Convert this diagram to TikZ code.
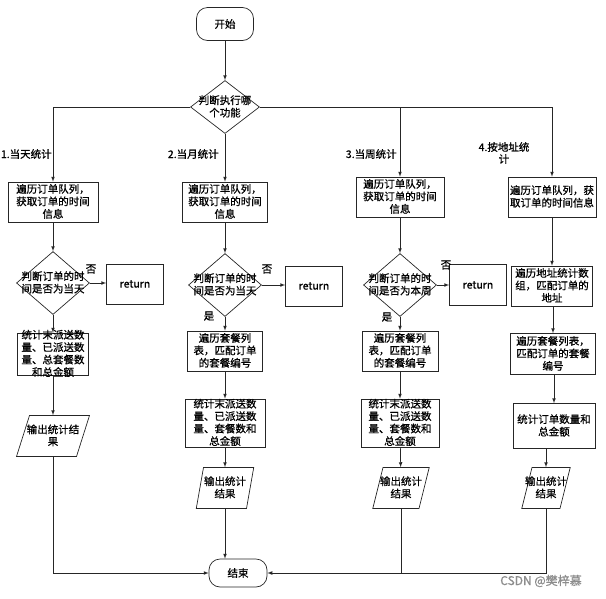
\documentclass[tikz,border=0pt]{standalone}
\usepackage{fontspec}
\setmainfont{Noto Sans CJK SC}[FakeBold=0.8]
\usetikzlibrary{shapes.geometric}
\newcommand{\boxtext}[1]{\smash{\raisebox{-3.5pt}{\begin{tabular}{@{}c@{}}#1\end{tabular}}}}
\begin{document}
\begin{tikzpicture}[x=1pt,y=-1pt,line width=0.7pt,draw=black!85,
        font=\fontsize{10.5}{12}\selectfont,
        proc/.style={draw,rectangle,inner sep=0pt},
        term/.style={draw,rectangle,rounded corners=11pt,inner sep=0pt},
        judge/.style={draw,diamond,inner sep=0pt},
        io/.style={draw,trapezium,trapezium left angle=76,trapezium right angle=104,
            inner ysep=0pt,text height=20.5pt,text depth=20.5pt}]
    \useasboundingbox(0,0)rectangle(606,598);
    % start and choice
    \node[term,minimum width=57pt,minimum height=33pt](start)at(225,24){开始};
    \node[judge,minimum width=69pt,minimum height=53pt](sel)at(225,107){\boxtext{判断执行哪\\个功能}};
    \node[anchor=east,inner sep=1pt](lab1)at(53,154){1.当天统计};
    \node[anchor=east,inner sep=1pt](lab2)at(220,154){2.当月统计};
    \node[anchor=east,inner sep=1pt](lab3)at(398,154){3.当周统计};
    \node[align=center](lab4)at(504,153){4.按地址统\\计};
    % column 1
    \node[proc,minimum width=90pt,minimum height=40pt](a1)at(53,202){\boxtext{遍历订单队列，\\获取订单的时间\\信息}};
    \node[judge,minimum width=73pt,minimum height=43pt](a2)at(53,283){\boxtext{判断订单的时\\间是否为当天}};
    \node[proc,minimum width=57pt,minimum height=40pt](a3)at(135,284){return};
    \node[proc,minimum width=71pt,minimum height=42pt](a4)at(53,354){\boxtext{统计末派送数\\量、已派送数\\量、总套餐数\\和总金额}};
    \node[io,trapezium left angle=72.4,trapezium right angle=107.6,inner xsep=-2.75pt](a5)at(53,436){\boxtext{输出统计结\\果}};
    \node(no1)at(91,269){否};
    % column 2
    \node[proc,minimum width=85pt,minimum height=40pt](b1)at(225,202){\boxtext{遍历订单队列，\\获取订单的时间\\信息}};
    \node[judge,minimum width=73pt,minimum height=43pt](b2)at(225,285){\boxtext{判断订单的时\\间是否为当天}};
    \node[proc,minimum width=57pt,minimum height=40pt](b3)at(314,286){return};
    \node[proc,minimum width=75pt,minimum height=40pt](b4)at(225,351){\boxtext{遍历套餐列\\表，匹配订单\\的套餐编号}};
    \node[proc,minimum width=80pt,minimum height=48pt](b5)at(225,423){\boxtext{统计末派送数\\量、已派送数\\量、套餐数和\\总金额}};
    \node[io,trapezium left angle=80,trapezium right angle=100,inner xsep=0.5pt](b6)at(225,488){\boxtext{输出统计\\结果}};
    \node(no2)at(267,269){否};
    \node(yes2)at(209,316){是};
    % column 3
    \node[proc,minimum width=88pt,minimum height=40pt](c1)at(400,197){\boxtext{遍历订单队列，\\获取订单的时间\\信息}};
    \node[judge,minimum width=73pt,minimum height=43pt](c2)at(400,285){\boxtext{判断订单的时\\间是否为本周}};
    \node[proc,minimum width=57pt,minimum height=41pt](c3)at(478,285){return};
    \node[proc,minimum width=76pt,minimum height=40pt](c4)at(400,351){\boxtext{遍历套餐列\\表，匹配订单\\的套餐编号}};
    \node[proc,minimum width=78pt,minimum height=48pt](c5)at(400,423){\boxtext{统计末派送数\\量、已派送数\\量、套餐数和\\总金额}};
    \node[io,inner xsep=-3pt](c6)at(401,488){\boxtext{输出统计\\结果}};
    \node(no3)at(446,265){否};
    \node(yes3)at(387,317){是};
    % column 4
    \node[proc,minimum width=88pt,minimum height=40pt](d1)at(552,197){\boxtext{遍历订单队列，获\\取订单的时间信息}};
    \node[proc,minimum width=81pt,minimum height=40pt](d2)at(552,286){\boxtext{遍历地址统计数\\组，匹配订单的\\地址}};
    \node[proc,minimum width=85pt,minimum height=41pt](d3)at(553,354){\boxtext{遍历套餐列表，\\匹配订单的套餐\\编号}};
    \node[proc,minimum width=82pt,minimum height=45pt](d4)at(554,426){\boxtext{统计订单数量和\\总金额}};
    \node[io,inner xsep=-7pt](d5)at(546,488){\boxtext{输出统计\\结果}};
    % end
    \node[term,minimum width=58pt,minimum height=28pt](fin)at(238,573){结束};
    \node[text=black!45,font=\fontsize{12}{14}\selectfont](mark)at(541,581){CSDN @樊梓慕};
    % connectors
    \draw[-latex](start)--(sel);
    \draw[-latex](sel.west)-|(a1.north);
    \draw[-latex](sel.south)--(b1.north);
    \draw[-latex](sel.east)-|(c1.north);
    \draw[-latex](sel.east)-|(d1.north);
    \draw[-latex](a1)--(a2);
    \draw[-latex](a2.east)--(a2.east-|a3.west);
    \draw[-latex](a2)--(a4);
    \draw[-latex](a4)--(a5);
    \draw[-latex](a5.south)|-(fin.west);
    \draw[-latex](b1)--(b2);
    \draw[-latex](b2.east)--(b2.east-|b3.west);
    \draw[-latex](b2)--(b4);
    \draw[-latex](b4)--(b5);
    \draw[-latex](b5)--(b6);
    \draw[-latex](b6.south)--(b6.south|-fin.north);
    \draw[-latex](c1)--(c2);
    \draw[-latex](c2.east)--(c2.east-|c3.west);
    \draw[-latex](c2)--(c4);
    \draw[-latex](c4)--(c5);
    \draw[-latex](c5)--(c6);
    \draw(c6.south)--(c6.south|-fin.east);
    \draw[-latex](d1.south)--(d1.south|-d2.north);
    \draw[-latex](d2.south-|d3.north)--(d3.north);
    \draw[-latex](d3.south-|d4.north)--(d4.north);
    \draw[-latex](d4.south-|d5.north)--(d5.north);
    \draw[-latex](d5.south)|-(fin.east);
\end{tikzpicture}
\end{document}
